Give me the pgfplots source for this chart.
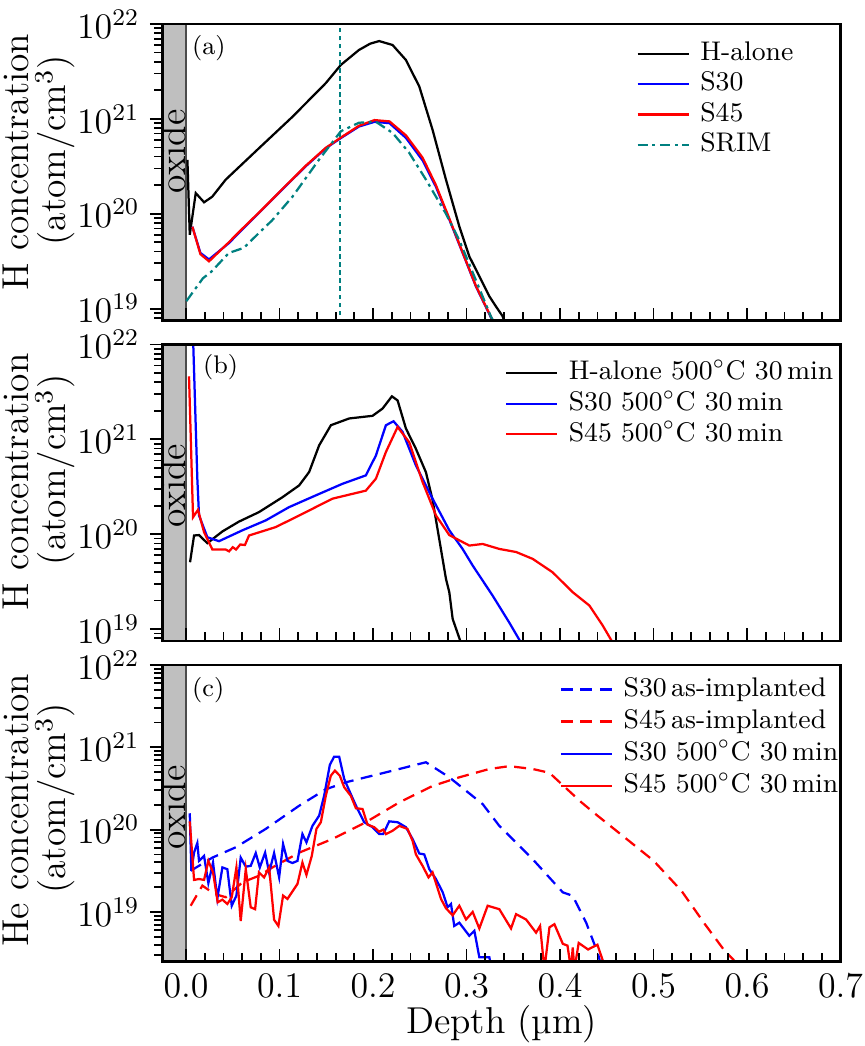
\RequirePackage{fix-cm}
\documentclass[border=0pt]{standalone}
\usepackage{pgfplots}
\pgfplotsset{compat=1.18}
\definecolor{srim}{RGB}{0,128,128}
\pgfplotsset{
  every axis/.append style={
    scale only axis, width=226.3pt, height=99pt,
    xmin=-0.025, xmax=0.7,
    xtick={0,0.1,0.2,0.3,0.4,0.5,0.6,0.7}, minor x tick num=4,
    tick pos=left,
    xtick align=inside, ytick align=outside,
    axis line style={line width=0.9pt},
    tick label style={font=\fontsize{12}{14}\selectfont},
    label style={font=\fontsize{12.5}{12.6}\selectfont},
    axis on top,
    legend cell align=left,
  },
  every tick/.style={black, line width=0.6pt},
  every axis plot/.append style={line width=0.75pt},
  every axis legend/.append style={draw=none, fill=none, font=\fontsize{9}{11}\selectfont, anchor=north west,
      inner sep=0pt, nodes={inner ysep=0pt, inner xsep=3.5pt, text height=6.5pt, text depth=2pt}},
}
\begin{document}
\begin{tikzpicture}[font=\fontsize{12.5}{15}\selectfont]
%% ---------------- panel (a)
\begin{axis}[ymode=log, ymax=1e22, at={(0,214pt)}, ymin=7.5e18, xticklabels={},
  ylabel={H concentration\\\hspace*{8pt}(atom/cm$^3$)},
  ylabel style={align=center, anchor=south, inner sep=0pt, at={(axis description cs:-0.128,0.534)}},
  legend style={at={(axis description cs:0.698,0.944)}, row sep=1.6pt}]
\fill[gray!50] (rel axis cs:0,0) rectangle (rel axis cs:0.0345,1);
\draw[gray!60!black, line width=0.5pt] (rel axis cs:0.0345,0) -- (rel axis cs:0.0345,1);
\node[rotate=90, anchor=south, inner sep=0pt] at (rel axis cs:0.0345,0.57) {oxide};
\node[anchor=north west, inner sep=0pt, font=\fontsize{8.5}{10}\selectfont] at (rel axis cs:0.0427,0.963) {(a)};
\addplot[black] coordinates {
(0.0015,3.7e20) (0.004,6.0e19) (0.0104,1.65e20) (0.0193,1.32e20) (0.028,1.51e20)
(0.0425,2.29e20) (0.078,4.9e20) (0.1138,1.05e21) (0.1495,2.38e21) (0.1656,3.7e21)
(0.185,5.32e21) (0.197,6.2e21) (0.2066,6.6e21) (0.2209,6.0e21) (0.2352,4.17e21)
(0.2495,2.19e21) (0.2637,7.66e20) (0.278,2.29e20) (0.2923,7.35e19) (0.303,3.55e19)
(0.3137,2.19e19) (0.3244,1.35e19) (0.3316,1.05e19) (0.3387,8.3e18) (0.341,7.1e18)};
\addlegendentry{H-alone}
\addplot[blue] coordinates {
(0.0068,7.3e19) (0.0154,3.86e19) (0.0246,3.3e19) (0.0458,4.9e19) (0.0565,6.27e19)
(0.078,1.02e20) (0.1065,1.95e20) (0.128,3.16e20) (0.1495,4.9e20) (0.1656,6.27e20)
(0.185,8.3e20) (0.2016,9.3e20) (0.2176,9.0e20) (0.2352,6.3e20) (0.253,3.65e20)
(0.2673,1.92e20) (0.2816,8.7e19) (0.2959,3.86e19) (0.31,1.72e19) (0.328,7.4e18) (0.331,6.5e18)};
\addlegendentry{S30}
\addplot[red] coordinates {
(0.0068,7.3e19) (0.0154,3.75e19) (0.0246,3.15e19) (0.0458,5.0e19) (0.0565,6.4e19)
(0.078,1.03e20) (0.1065,1.97e20) (0.128,3.2e20) (0.1495,4.95e20) (0.1656,6.35e20)
(0.185,8.45e20) (0.2016,9.7e20) (0.2176,9.4e20) (0.2352,6.7e20) (0.253,3.9e20)
(0.2673,2.0e20) (0.2816,8.9e19) (0.2959,3.9e19) (0.31,1.74e19) (0.328,7.5e18) (0.331,6.5e18)};
\addlegendentry{S45}
\addplot[srim, dash pattern=on 3.5pt off 1.5pt on 1pt off 1.5pt] coordinates {
(0.0004,1.2e19) (0.0181,2.09e19) (0.0271,2.45e19) (0.0458,3.86e19) (0.0618,4.37e19)
(0.078,6.27e19) (0.092,8.5e19) (0.1138,1.51e20) (0.1423,3.72e20) (0.1656,7.4e20)
(0.185,9.1e20) (0.2032,9.3e20) (0.221,7.1e20) (0.2388,4.37e20) (0.2566,2.29e20)
(0.278,1.0e20) (0.2923,5.25e19) (0.31,2.0e19) (0.326,8.3e18) (0.33,7.0e18)};
\addlegendentry{SRIM}
\addplot[srim, line width=0.7pt, dash pattern=on 1.5pt off 1.2pt, forget plot] coordinates {(0.165,7e18) (0.165,1e22)};
\end{axis}
%% ---------------- panel (b)
\begin{axis}[ymode=log, ymax=1e22, at={(0,107pt)}, ymin=7.5e18, xticklabels={},
  ylabel={H concentration\\\hspace*{8pt}(atom/cm$^3$)},
  ylabel style={align=center, anchor=south, inner sep=0pt, at={(axis description cs:-0.128,0.537)}},
  legend style={at={(axis description cs:0.504,0.948)}, row sep=1.7pt}]
\fill[gray!50] (rel axis cs:0,0) rectangle (rel axis cs:0.0345,1);
\draw[gray!60!black, line width=0.5pt] (rel axis cs:0.0345,0) -- (rel axis cs:0.0345,1);
\node[rotate=90, anchor=south, inner sep=0pt] at (rel axis cs:0.0345,0.524) {oxide};
\node[anchor=north west, inner sep=0pt, font=\fontsize{8.5}{10}\selectfont] at (rel axis cs:0.059,0.97) {(b)};
\addplot[black] coordinates {
(0.0043,5.07e19) (0.0086,9.7e19) (0.0139,9.8e19) (0.0228,8.05e19) (0.0389,1.07e20)
(0.0567,1.36e20) (0.078,1.71e20) (0.103,2.45e20) (0.121,3.27e20) (0.1317,4.53e20)
(0.1424,8.65e20) (0.155,1.41e21) (0.1745,1.66e21) (0.1995,1.77e21) (0.2102,2.11e21)
(0.2202,2.84e21) (0.2263,2.57e21) (0.2352,1.3e21) (0.2459,7.94e20) (0.2566,4.5e20)
(0.2637,2.3e20) (0.2709,8.8e19) (0.278,3.4e19) (0.2816,2.45e19) (0.2852,1.28e19) (0.294,7.2e18)};
\addlegendentry{H-alone 500$^\circ$C 30\,min}
\addplot[blue] coordinates {
(0.0072,1.5e22) (0.0121,3.85e20) (0.0139,1.58e20) (0.0228,9.3e19) (0.0353,8.45e19)
(0.0603,1.1e20) (0.0853,1.4e20) (0.1102,1.93e20) (0.1389,2.57e20) (0.1673,3.4e20)
(0.1923,4.17e20) (0.2031,6.76e20) (0.2138,1.41e21) (0.222,1.55e21) (0.2316,1.2e21)
(0.2459,5.3e20) (0.2637,2.37e20) (0.2816,1.1e20) (0.2958,7.0e19) (0.3066,4.68e19)
(0.328,2.25e19) (0.3458,1.17e19) (0.3583,7.2e18)};
\addlegendentry{S30 500$^\circ$C 30\,min}
\addplot[red] coordinates {
(0.0032,4.62e21) (0.0075,1.51e20) (0.0128,1.81e20) (0.0193,1.05e20) (0.0282,6.9e19)
(0.0425,6.9e19) (0.046,6.6e19) (0.050,7.3e19) (0.0535,6.9e19) (0.058,7.8e19) (0.063,7.7e19)
(0.0674,9.7e19) (0.096,1.19e20) (0.1245,1.64e20) (0.1566,2.37e20) (0.1923,2.88e20)
(0.2031,3.85e20) (0.2138,7.36e20) (0.2263,1.35e21) (0.2388,9.3e20) (0.253,3.55e20)
(0.2673,1.58e20) (0.2816,9.8e19) (0.303,7.6e19) (0.3173,7.9e19) (0.3351,7.0e19)
(0.353,6.5e19) (0.3708,5.5e19) (0.392,3.98e19) (0.4136,2.45e19) (0.4315,1.77e19)
(0.4457,1.09e19) (0.4564,7.2e18)};
\addlegendentry{S45 500$^\circ$C 30\,min}
\end{axis}
%% ---------------- panel (c)
\begin{axis}[name=pc, ymode=log, ymax=1e22, at={(0,0)}, ymin=2.5e18,
  xticklabel style={inner sep=1pt, yshift=-3pt, /pgf/number format/.cd, fixed, fixed zerofill, precision=1},
  ylabel={He concentration\\\hspace*{8pt}(atom/cm$^3$)},
  ylabel style={align=center, anchor=south, inner sep=0pt, at={(axis description cs:-0.128,0.51)}},
  legend style={at={(axis description cs:0.585,0.962)}, row sep=2.2pt}]
\fill[gray!50] (rel axis cs:0,0) rectangle (rel axis cs:0.0345,1);
\draw[gray!60!black, line width=0.5pt] (rel axis cs:0.0345,0) -- (rel axis cs:0.0345,1);
\node[rotate=90, anchor=south, inner sep=0pt] at (rel axis cs:0.0345,0.52) {oxide};
\node[anchor=north west, inner sep=0pt, font=\fontsize{8.5}{10}\selectfont] at (rel axis cs:0.0427,0.96) {(c)};
\addplot[blue, dash pattern=on 4pt off 2.5pt] coordinates {
(0.005,3.16e19) (0.0282,4.57e19) (0.0532,6.1e19) (0.0853,1.02e20) (0.121,1.95e20)
(0.1495,3.09e20) (0.171,3.76e20) (0.2209,5.2e20) (0.2566,6.58e20) (0.2816,4.32e20)
(0.3173,2.04e20) (0.3351,1.11e20) (0.3708,4.37e19) (0.403,1.73e19) (0.4136,1.57e19)
(0.428,7.4e18) (0.4404,3.16e18) (0.443,2.45e18)};
\addlegendentry{S30\,as-implanted}
\addplot[red, dash pattern=on 4pt off 2.5pt] coordinates {
(0.005,1.19e19) (0.0175,2.09e19) (0.03,1.66e19) (0.0425,1.51e19) (0.0603,2.29e19)
(0.078,2.75e19) (0.0924,3.47e19) (0.121,5.25e19) (0.1566,7.7e19) (0.1923,1.23e20)
(0.228,2.14e20) (0.2637,3.39e20) (0.2923,4.32e20) (0.3244,5.45e20) (0.3458,5.9e20)
(0.3708,5.45e20) (0.3887,4.9e20) (0.405,3.3e20) (0.423,2.14e20) (0.44,1.48e20)
(0.47,7.9e19) (0.5,4.2e19) (0.53,1.8e19) (0.555,7.1e18) (0.575,3.5e18) (0.588,2.45e18)};
\addlegendentry{S45\,as-implanted}
\addplot[blue] coordinates {
(0.004,1.58e20) (0.0057,3.16e19) (0.0086,5.25e19) (0.0121,6.87e19) (0.0139,4.17e19)
(0.0193,4.79e19) (0.0239,2.24e19) (0.0289,3.98e19) (0.0335,1.46e19) (0.0389,3.47e19)
(0.0442,3.31e19) (0.0489,1.19e19) (0.0539,1.58e19) (0.0585,4.57e19) (0.0639,3.55e19)
(0.0692,3.63e19) (0.0746,5.19e19) (0.0789,3.47e19) (0.0846,5.25e19) (0.0889,3.02e19)
(0.0942,5.19e19) (0.0996,2.63e19) (0.1038,6.68e19) (0.1085,4.17e19) (0.1138,3.93e19)
(0.1192,4.17e19) (0.1245,8.83e19) (0.1288,7.0e19) (0.1352,1.11e20) (0.1424,1.48e20)
(0.1477,2.57e20) (0.1538,6.1e20) (0.1584,7.7e20) (0.1638,7.7e20) (0.1692,4.12e20)
(0.1763,2.69e20) (0.1834,1.78e20) (0.1906,1.23e20) (0.1995,1.07e20) (0.2066,8.83e19)
(0.2109,8.83e19) (0.2173,1.26e20) (0.2263,1.23e20) (0.2352,1.07e20) (0.2423,7.7e19)
(0.2495,5.13e19) (0.2548,5.0e19) (0.2602,3.31e19) (0.2673,2.51e19) (0.2745,1.74e19)
(0.2798,1.14e19) (0.2834,1.25e19) (0.2869,6.76e18) (0.2923,7.4e18) (0.303,5.13e18)
(0.3084,5.9e18) (0.3137,2.82e18) (0.3244,2.82e18) (0.326,2.3e18)};
\addlegendentry{S30 500$^\circ$C 30\,min}
\addplot[red] coordinates {
(0.004,1.26e20) (0.0086,2.45e19) (0.0139,2.51e19) (0.0193,2.45e19) (0.0239,4.17e19)
(0.0289,3.02e19) (0.0339,1.31e19) (0.0389,1.41e19) (0.0442,1.25e19) (0.0489,1.51e19)
(0.0539,3.47e19) (0.0585,7.76e18) (0.0639,3.31e19) (0.0692,1.14e19) (0.0739,1.08e19)
(0.078,3.02e19) (0.0835,2.63e19) (0.0889,3.47e19) (0.0942,8.04e18) (0.0988,6.76e18)
(0.1038,1.58e19) (0.1085,1.44e19) (0.1192,2.19e19) (0.1245,3.98e19) (0.1288,2.82e19)
(0.1345,4.79e19) (0.1395,1.02e20) (0.1442,1.23e20) (0.1495,2.57e20) (0.1549,4.52e20)
(0.1592,5.2e20) (0.1645,4.52e20) (0.1692,3.27e20) (0.1763,2.57e20) (0.1817,1.82e20)
(0.1888,1.78e20) (0.1941,1.15e20) (0.2013,1.07e20) (0.2066,9.44e19) (0.2109,1.0e20)
(0.2138,8.83e19) (0.2209,9.68e19) (0.228,1.11e20) (0.2369,1.02e20) (0.2423,7.33e19)
(0.2459,5.0e19) (0.253,3.63e19) (0.2594,2.63e19) (0.2637,3.02e19) (0.2727,1.44e19)
(0.278,1.11e19) (0.2852,9.1e18) (0.2923,1.19e19) (0.2995,8.1e18) (0.3066,1.0e19)
(0.3137,6.3e18) (0.3226,1.19e19) (0.3351,1.08e19) (0.3476,6.3e18) (0.353,9.4e18)
(0.3637,8.1e18) (0.3744,5.6e18) (0.3787,6.76e18) (0.3833,2.0e18) (0.3887,6.5e18)
(0.394,7.1e18) (0.403,4.1e18) (0.408,3.9e18) (0.4118,2.0e18) (0.4136,3.7e18)
(0.4154,2.0e18) (0.42,4.2e18) (0.43,3.5e18) (0.44,4.0e18) (0.449,2.0e18)};
\addlegendentry{S45 500$^\circ$C 30\,min}
\end{axis}
\node[anchor=base, inner sep=0pt, font=\fontsize{12.5}{15}\selectfont] at ([yshift=-24pt]pc.south) {Depth (µm)};
\pgfresetboundingbox
\path[use as bounding box] (-54.3pt,-28.2pt) rectangle (234.3pt,321pt);
\end{tikzpicture}
\end{document}
